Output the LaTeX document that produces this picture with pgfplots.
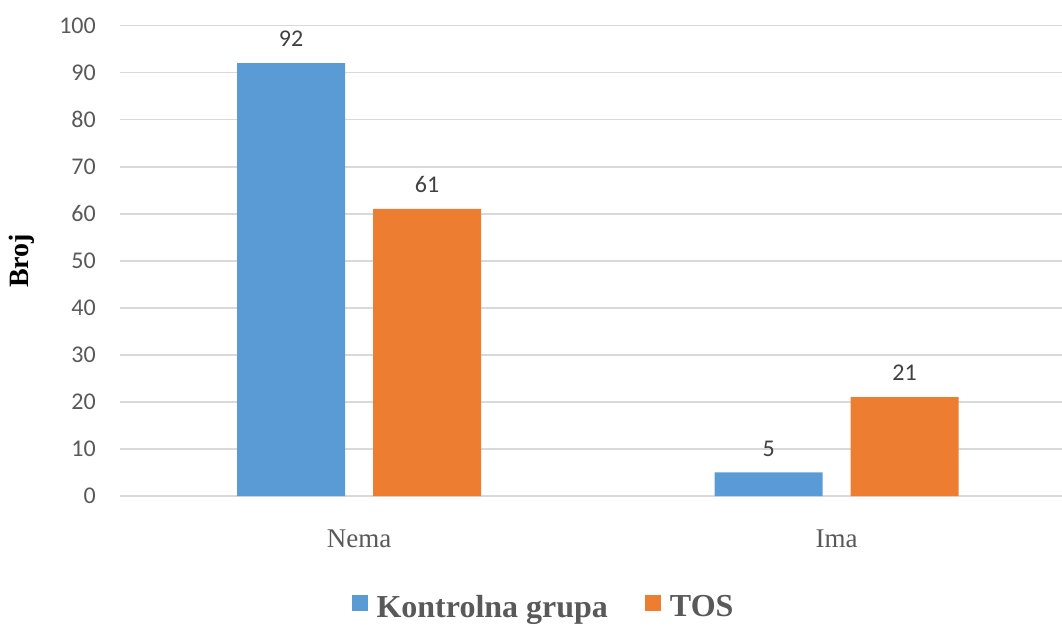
\documentclass[border=0pt]{standalone}
\usepackage{pgfplots}
\pgfplotsset{compat=1.18}
\usepackage{fontspec}
\setmainfont{Liberation Serif}
\newfontfamily\calibri{Carlito}
\definecolor{cblue}{HTML}{5B9BD5}
\definecolor{corange}{HTML}{ED7D31}
\definecolor{cgrid}{HTML}{D9D9D9}
\definecolor{ctext}{HTML}{595959}
\definecolor{clabel}{HTML}{404040}
\begin{document}
\begin{tikzpicture}
\useasboundingbox (0,0) rectangle (1062pt,626pt);
\begin{axis}[
  at={(120pt,130pt)}, anchor=south west,
  scale only axis, width=942pt, height=470.5pt,
  xmin=-0.5005, xmax=1.472, ymin=0, ymax=100,
  ybar, bar width=108pt,
  axis line style={draw=none},
  major tick length=0pt,
  ymajorgrids, grid style={color=cgrid, line width=1.8pt},
  ytick={0,10,...,100},
  xtick={0,1}, xticklabels={Nema,Ima},
  /pgf/number format/assume math mode=true,
  yticklabel style={font=\calibri\fontsize{24}{24}\selectfont, text=ctext, inner sep=0pt, anchor=east, xshift=-24pt},
  xticklabel style={font=\fontsize{27}{27}\selectfont, text=ctext, inner sep=0pt, anchor=north, yshift=-34pt},
  ylabel={Broj},
  ylabel style={at={(rel axis cs:-0.104,0.5)}, anchor=center, font=\bfseries\fontsize{28}{28}\selectfont, text=black},
  nodes near coords,
  every node near coord/.append style={font=\calibri\fontsize{24}{24}\selectfont, text=clabel, inner sep=0pt, anchor=south, yshift=16pt},
  legend columns=2,
  legend style={at={(rel axis cs:0.4485,-0.236)}, anchor=center, draw=none, fill=none,
    font=\bfseries\fontsize{32}{32}\selectfont, text=ctext, nodes={inner sep=0pt},
    /tikz/every odd column/.append style={column sep=9pt},
    /tikz/every even column/.append style={column sep=37pt}},
  legend image code/.code={\fill[#1] (0pt,-4pt) rectangle (16pt,12pt);},
]
\addplot[fill=cblue, draw=none, bar shift=-68pt] coordinates {(0,92) (1,5)};
\addplot[fill=corange, draw=none, bar shift=68pt] coordinates {(0,61) (1,21)};
\legend{Kontrolna grupa, TOS}
\end{axis}
\end{tikzpicture}
\end{document}
